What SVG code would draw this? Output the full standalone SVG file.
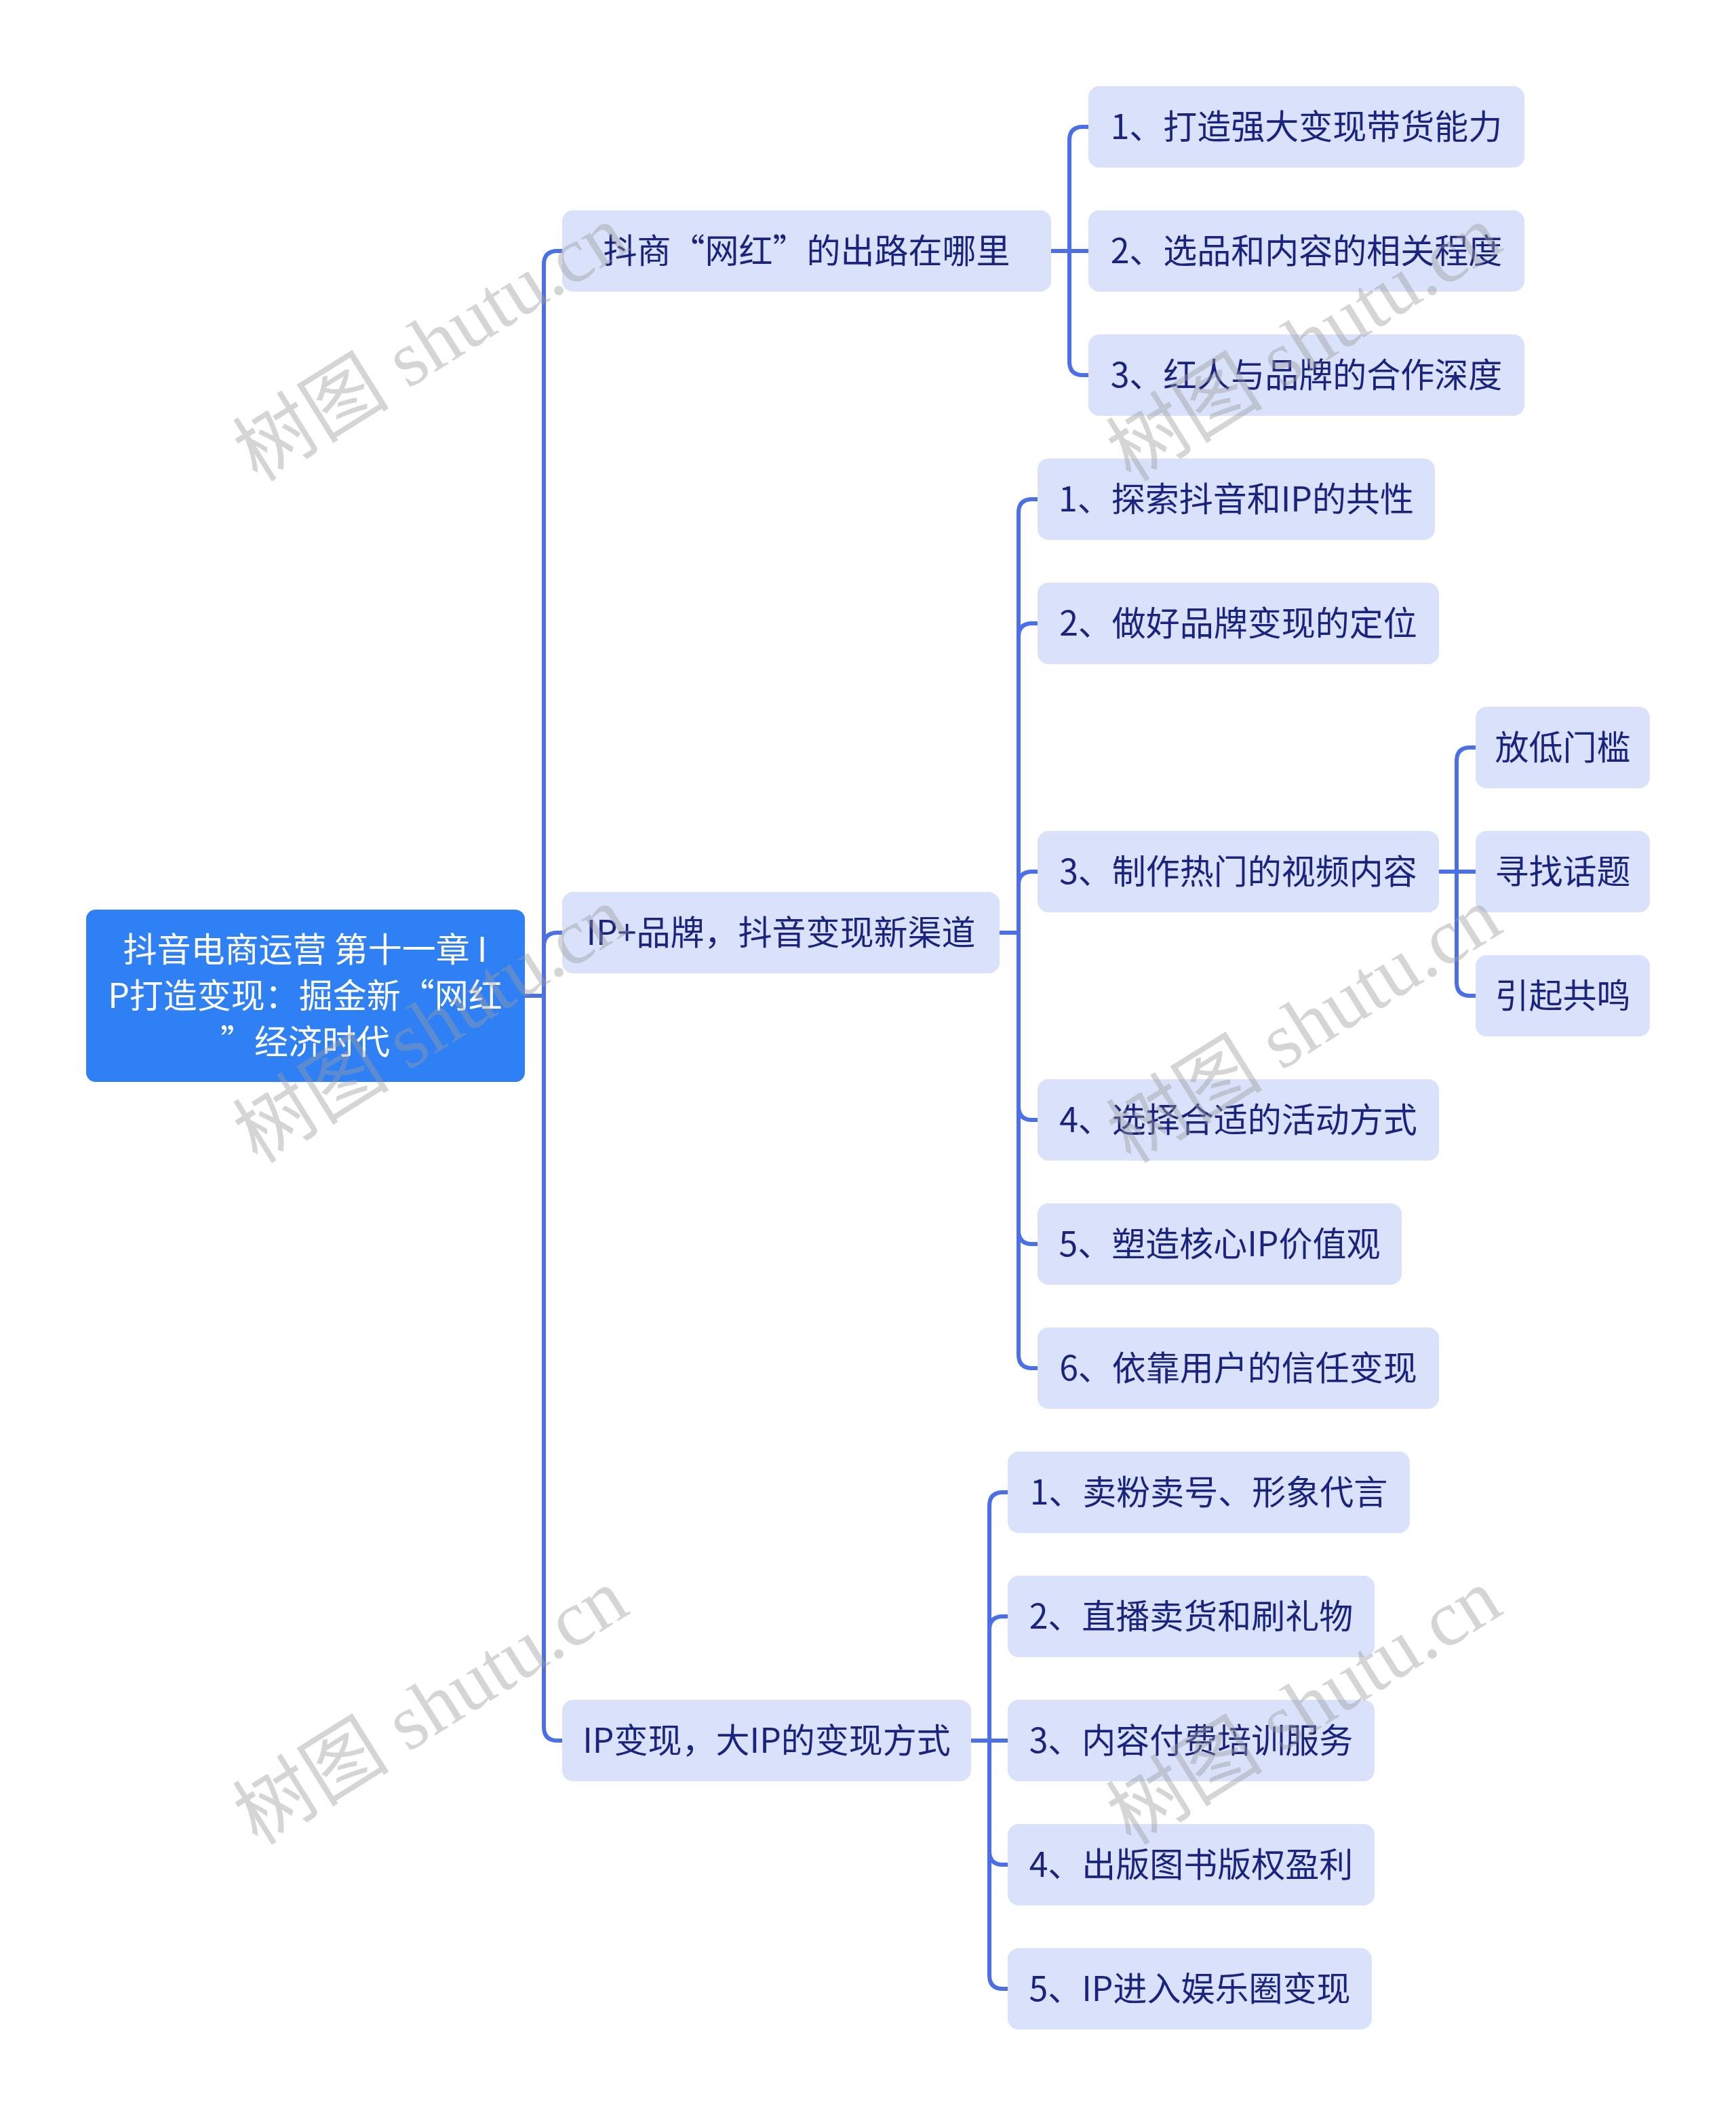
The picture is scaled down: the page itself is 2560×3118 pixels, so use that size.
<svg xmlns="http://www.w3.org/2000/svg" width="2560" height="3118" viewBox="0 0 2560 3118">
<style>
.bg{fill:#ffffff}
.conn path{fill:none;stroke:#4b6fe6;stroke-width:6;stroke-linecap:butt;stroke-linejoin:round}
.node rect{fill:#dae2fb}
.node text{font-family:"Noto Sans CJK SC","Noto Sans",sans-serif;font-size:50px;fill:#1a237e;text-anchor:middle}
#root rect{fill:#2f80f5}
#root text{fill:#ffffff}
.wm text{font-family:"Liberation Serif","Noto Sans CJK SC",serif;font-size:116px;fill:#9a9a9a;fill-opacity:0.42}
</style>
<rect class="bg" x="0" y="0" width="2560" height="3118"/>
<g id="connectors" class="conn">
<path d="M774,1468 H802 V390 Q802,370 822,370 H829"/>
<path d="M774,1468 H802 V1395 Q802,1375 822,1375 H829"/>
<path d="M774,1468 H802 V2546 Q802,2566 822,2566 H829"/>
<path d="M1550,370 H1577 V207 Q1577,187 1597,187 H1605"/>
<path d="M1550,370 H1605"/>
<path d="M1550,370 H1577 V533 Q1577,553 1597,553 H1605"/>
<path d="M1474,1375 H1502 V756 Q1502,736 1522,736 H1530"/>
<path d="M1474,1375 H1502 V939 Q1502,919 1522,919 H1530"/>
<path d="M1474,1375 H1502 V1305 Q1502,1285 1522,1285 H1530"/>
<path d="M1474,1375 H1502 V1631 Q1502,1651 1522,1651 H1530"/>
<path d="M1474,1375 H1502 V1814 Q1502,1834 1522,1834 H1530"/>
<path d="M1474,1375 H1502 V1997 Q1502,2017 1522,2017 H1530"/>
<path d="M2122,1285 H2148 V1122 Q2148,1102 2168,1102 H2176"/>
<path d="M2122,1285 H2176"/>
<path d="M2122,1285 H2148 V1448 Q2148,1468 2168,1468 H2176"/>
<path d="M1432,2566 H1459 V2220 Q1459,2200 1479,2200 H1486"/>
<path d="M1432,2566 H1459 V2403 Q1459,2383 1479,2383 H1486"/>
<path d="M1432,2566 H1486"/>
<path d="M1432,2566 H1459 V2729 Q1459,2749 1479,2749 H1486"/>
<path d="M1432,2566 H1459 V2912 Q1459,2932 1479,2932 H1486"/>
</g>
<g id="root" class="node">
<rect x="127" y="1341" width="647" height="254" rx="14"/>
<text><tspan x="450" y="1418">抖音电商运营 第十一章 I</tspan><tspan x="450" y="1486">P打造变现：掘金新“网红</tspan><tspan x="450" y="1554">”经济时代</tspan></text>
</g>
<g id="n1" class="node"><rect x="829" y="310" width="721" height="120" rx="16"/><text x="1189.5" y="388">抖商“网红”的出路在哪里</text></g>
<g id="n1c1" class="node"><rect x="1605" y="127" width="643" height="120" rx="16"/><text x="1926.5" y="205">1、打造强大变现带货能力</text></g>
<g id="n1c2" class="node"><rect x="1605" y="310" width="643" height="120" rx="16"/><text x="1926.5" y="388">2、选品和内容的相关程度</text></g>
<g id="n1c3" class="node"><rect x="1605" y="493" width="643" height="120" rx="16"/><text x="1926.5" y="571">3、红人与品牌的合作深度</text></g>
<g id="n2" class="node"><rect x="829" y="1315" width="645" height="120" rx="16"/><text x="1151.5" y="1393">IP+品牌，抖音变现新渠道</text></g>
<g id="n2c1" class="node"><rect x="1530" y="676" width="586" height="120" rx="16"/><text x="1823" y="754">1、探索抖音和IP的共性</text></g>
<g id="n2c2" class="node"><rect x="1530" y="859" width="592" height="120" rx="16"/><text x="1826" y="937">2、做好品牌变现的定位</text></g>
<g id="n2c3" class="node"><rect x="1530" y="1225" width="592" height="120" rx="16"/><text x="1826" y="1303">3、制作热门的视频内容</text></g>
<g id="n2c3a" class="node"><rect x="2176" y="1042" width="257" height="120" rx="16"/><text x="2304.5" y="1120">放低门槛</text></g>
<g id="n2c3b" class="node"><rect x="2176" y="1225" width="257" height="120" rx="16"/><text x="2304.5" y="1303">寻找话题</text></g>
<g id="n2c3c" class="node"><rect x="2176" y="1408" width="257" height="120" rx="16"/><text x="2304.5" y="1486">引起共鸣</text></g>
<g id="n2c4" class="node"><rect x="1530" y="1591" width="592" height="120" rx="16"/><text x="1826" y="1669">4、选择合适的活动方式</text></g>
<g id="n2c5" class="node"><rect x="1530" y="1774" width="537" height="120" rx="16"/><text x="1798.5" y="1852">5、塑造核心IP价值观</text></g>
<g id="n2c6" class="node"><rect x="1530" y="1957" width="592" height="120" rx="16"/><text x="1826" y="2035">6、依靠用户的信任变现</text></g>
<g id="n3" class="node"><rect x="829" y="2506" width="603" height="120" rx="16"/><text x="1130.5" y="2584">IP变现，大IP的变现方式</text></g>
<g id="n3c1" class="node"><rect x="1486" y="2140" width="593" height="120" rx="16"/><text x="1782.5" y="2218">1、卖粉卖号、形象代言</text></g>
<g id="n3c2" class="node"><rect x="1486" y="2323" width="541" height="120" rx="16"/><text x="1756.5" y="2401">2、直播卖货和刷礼物</text></g>
<g id="n3c3" class="node"><rect x="1486" y="2506" width="541" height="120" rx="16"/><text x="1756.5" y="2584">3、内容付费培训服务</text></g>
<g id="n3c4" class="node"><rect x="1486" y="2689" width="541" height="120" rx="16"/><text x="1756.5" y="2767">4、出版图书版权盈利</text></g>
<g id="n3c5" class="node"><rect x="1486" y="2872" width="537" height="120" rx="16"/><text x="1754.5" y="2950">5、IP进入娱乐圈变现</text></g>
<g id="watermarks" class="wm">
<text transform="translate(380,712) rotate(-32)">树图 shutu.cn</text>
<text transform="translate(1668,712) rotate(-32)">树图 shutu.cn</text>
<text transform="translate(380,1717) rotate(-32)">树图 shutu.cn</text>
<text transform="translate(1668,1717) rotate(-32)">树图 shutu.cn</text>
<text transform="translate(380,2722) rotate(-32)">树图 shutu.cn</text>
<text transform="translate(1668,2722) rotate(-32)">树图 shutu.cn</text>
</g>
</svg>
